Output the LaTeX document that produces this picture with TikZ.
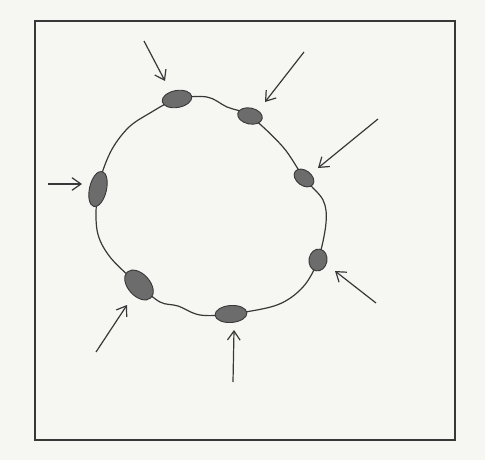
\documentclass[tikz,border=0pt]{standalone}
\usetikzlibrary{shapes.geometric,arrows.meta}
\definecolor{bg}{HTML}{F6F6F3}
\definecolor{ink}{HTML}{383838}
\definecolor{blobfill}{HTML}{6C6C6C}
\begin{document}
\begin{tikzpicture}[x=1pt,y=-1pt,
  blob/.style={ellipse,draw=ink,line width=0.9pt,fill=blobfill,inner sep=0pt},
  ring/.style={draw=ink,line width=1.2pt},
  arr/.style={draw=ink,line width=1.2pt,-{Straight Barb[angle=70:11pt]}},
  frame/.style={draw=ink,line width=1.8pt}]
\fill[bg] (0,0) rectangle (485,460);
\useasboundingbox (0,0) rectangle (485,460);
\draw[frame] (35,21) rectangle (455,440);
% ring
\draw[ring] plot[smooth cycle,tension=0.55] coordinates {
  (177,99) (150,113) (128,128) (110,153) (98,189) (97,230) (110,257)
  (139,285) (160,302) (178,306) (200,315) (231,314) (277,305) (303,287) (318,260)
  (326,223) (323,200) (304,178) (283,147) (250,116) (227,107) (207,97)};
% blobs
\node[blob,minimum width=30pt,minimum height=17pt,rotate=10] (b1) at (177,99) {};
\node[blob,minimum width=25pt,minimum height=16pt,rotate=-12] (b2) at (250,116) {};
\node[blob,minimum width=22pt,minimum height=15pt,rotate=-37] (b3) at (304,178) {};
\node[blob,minimum width=22pt,minimum height=18pt,rotate=80] (b4) at (318,260) {};
\node[blob,minimum width=32pt,minimum height=17pt,rotate=4] (b5) at (231,314) {};
\node[blob,minimum width=35pt,minimum height=22pt,rotate=-48] (b6) at (139,285) {};
\node[blob,minimum width=36pt,minimum height=17pt,rotate=77] (b7) at (98,189) {};
% arrows
\coordinate (t1) at (144,41);  \coordinate (h1) at (165,81);
\coordinate (t2) at (304,52);  \coordinate (h2) at (265,102);
\coordinate (t3) at (378,119); \coordinate (h3) at (318,168);
\coordinate (t4) at (376,303); \coordinate (h4) at (335,271);
\coordinate (t5) at (233,382); \coordinate (h5) at (234,330);
\coordinate (t6) at (96,352);  \coordinate (h6) at (127,305);
\coordinate (t7) at (48,184);  \coordinate (h7) at (82,184);
\draw[arr] (t1) -- (h1);
\draw[arr] (t2) -- (h2);
\draw[arr] (t3) -- (h3);
\draw[arr] (t4) -- (h4);
\draw[arr] (t5) -- (h5);
\draw[arr] (t6) -- (h6);
\draw[arr] (t7) -- (h7);
\end{tikzpicture}
\end{document}
